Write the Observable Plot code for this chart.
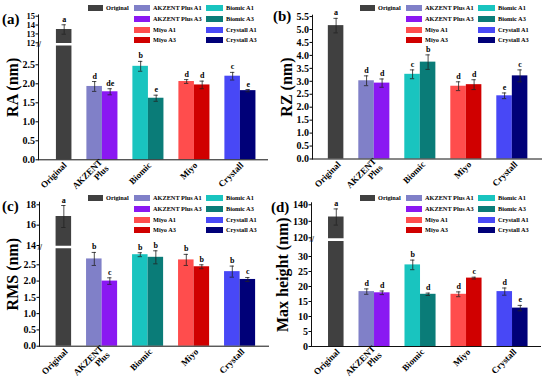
<!DOCTYPE html>
<html><head><meta charset="utf-8">
<script src="https://cdn.jsdelivr.net/npm/d3@7"></script>
<script src="https://cdn.jsdelivr.net/npm/@observablehq/plot@0.6"></script>
<style>
body{margin:0;background:#fff;}
#root{position:relative;width:550px;height:379px;overflow:hidden;font-family:"Liberation Serif","Times New Roman",serif;font-weight:bold;color:#000;}
.panel{position:absolute;}
.panel svg{overflow:visible;}
.tag{position:absolute;font-size:15px;font-weight:bold;line-height:1;white-space:nowrap;}
.legend{position:absolute;left:0;top:0;width:275px;height:50px;font-size:6.3px;}
.sw{position:absolute;height:6px;transform:translateY(-50%);}
.lt{position:absolute;line-height:1;white-space:nowrap;transform:translateY(-50%);}
</style></head><body><div id="root"></div>
<script>
// ---- categories ----
const groups = ["Original", "AKZENT Plus", "Biomic", "Miyo", "Crystall"];
const series = ["Original", "AKZENT Plus A1", "AKZENT Plus A3", "Biomic A1", "Biomic A3", "Miyo A1", "Miyo A3", "Crystall A1", "Crystall A3"];
const seriesGroup = ["Original", "AKZENT Plus", "AKZENT Plus", "Biomic", "Biomic", "Miyo", "Miyo", "Crystall", "Crystall"];
const seriesColors = ["#404040", "#8080c8", "#8a18f2", "#19c4bf", "#0a7c78", "#ff4d4d", "#d00000", "#4848f6", "#000078"];

// ---- (a) RA ----
const raValues = [13.5, 1.93, 1.79, 2.46, 1.62, 2.06, 1.97, 2.20, 1.82];
const raErrors = [0.53, 0.13, 0.08, 0.13, 0.08, 0.05, 0.10, 0.10, 0.03];
const raLetters = ["a", "d", "de", "b", "e", "d", "d", "c", "e"];
const raTicks = [0, 0.5, 1, 1.5, 2, 2.5, 12, 13, 14, 15];

// ---- (b) RZ ----
const rzValues = [5.15, 3.02, 2.93, 3.27, 3.74, 2.81, 2.87, 2.44, 3.21];
const rzErrors = [0.28, 0.19, 0.16, 0.17, 0.28, 0.17, 0.19, 0.11, 0.23];
const rzLetters = ["a", "d", "d", "c", "b", "d", "d", "e", "c"];
const rzTicks = [0, 0.5, 1, 1.5, 2, 2.5, 3, 3.5, 4, 4.5, 5, 5.5];

// ---- (c) RMS ----
const rmsValues = [16.85, 2.68, 2.00, 2.81, 2.73, 2.65, 2.44, 2.29, 2.05];
const rmsErrors = [1.08, 0.20, 0.10, 0.06, 0.20, 0.17, 0.06, 0.17, 0.06];
const rmsLetters = ["a", "b", "c", "b", "b", "b", "b", "b", "c"];
const rmsTicks = [0, 0.5, 1, 1.5, 2, 2.5, 14, 16, 18];

// ---- (d) Max height ----
const maxValues = [132.6, 18.3, 17.9, 27.2, 17.4, 17.4, 22.8, 18.3, 12.8];
const maxErrors = [4.9, 0.9, 0.6, 1.6, 0.4, 0.8, 0.3, 1.2, 0.9];
const maxLetters = ["a", "d", "d", "b", "d", "d", "c", "d", "e"];
const maxTicks = [0, 5, 10, 15, 20, 25, 30, 120, 130, 140];

// axis layout: bottom/top pixel of the y axis, pixels per unit below (and above) the break
const panels = [
  {tag: "(a)", left: 0, top: 0, h: 190, ml: 37, align: 0.16, title: "RA (nm)", titleOffset: 32,
   values: raValues, errors: raErrors, letters: raLetters, ticks: raTicks,
   bottomPx: 159.3, topPx: 14.4, ppuLow: 38, brk: {L: 3, U: 12, gapPx: 3, ppuHigh: 8.87},
   fmt: v => v >= 12 ? String(v) : v.toFixed(1), tagX: 2, tagY: 11.5, lgX: 0},
  {tag: "(b)", left: 275, top: 0, h: 190, ml: 36.5, align: 0.02, title: "RZ (nm)", titleOffset: 31.5,
   values: rzValues, errors: rzErrors, letters: rzLetters, ticks: rzTicks,
   bottomPx: 158.5, topPx: 14.7, ppuLow: 25.9, brk: null,
   fmt: v => v.toFixed(1), tagX: 273, tagY: 8.5, lgX: -3},
  {tag: "(c)", left: 0, top: 190, h: 189, ml: 38, align: 0.07, title: "RMS (nm)", titleOffset: 33,
   values: rmsValues, errors: rmsErrors, letters: rmsLetters, ticks: rmsTicks,
   bottomPx: 155.7, topPx: 11.7, ppuLow: 32.56, brk: {L: 3, U: 14, gapPx: 3, ppuHigh: 10.18},
   fmt: v => v >= 14 ? String(v) : v.toFixed(1), tagX: 2, tagY: 198.5, lgX: 0},
  {tag: "(d)", left: 275, top: 190, h: 189, ml: 35.5, align: 0.1, title: "Max height (nm)", titleOffset: 35,
   values: maxValues, errors: maxErrors, letters: maxLetters, ticks: maxTicks,
   bottomPx: 156, topPx: 12.3, ppuLow: 3.0, brk: {L: 35, U: 120, gapPx: 3.7, ppuHigh: 1.65},
   fmt: v => String(v), tagX: 271, tagY: 199.5, lgX: -3}
];

// legend layout: [series index, column, row]
const legendItems = [[0,0,0],[1,1,0],[3,2,0],[2,1,1],[4,2,1],[5,1,2],[7,2,2],[6,1,3],[8,2,3]];
const legendColX = [88, 134, 206], legendSwW = [15, 16, 17], legendRowY = [7.5, 18.5, 29.5, 40];

// broken-axis mapping: data value -> position on a continuous "display" axis
function axisTransform(p) {
  if (!p.brk) return v => v;
  const {L, U, gapPx, ppuHigh} = p.brk;
  const g = gapPx / p.ppuLow, k = ppuHigh / p.ppuLow;
  return v => v <= L ? v : v >= U ? L + g + (v - U) * k : L + (v - L) / (U - L) * g;
}

const root = document.getElementById("root");

for (const p of panels) {
  const f = axisTransform(p);
  const rows = series.map((s, i) => ({
    series: s, group: seriesGroup[i],
    // the single "Original" bar occupies the second slot of its group, as in the source figure
    slot: s.endsWith("A1") ? "A1" : "A3",
    value: p.values[i], err: p.errors[i], letter: p.letters[i]
  }));
  // axis ticks are placed on the display axis and labelled with their data value
  const lowTicks = p.brk ? p.ticks.filter(v => v <= p.brk.L) : p.ticks;
  const highTicks = p.brk ? p.ticks.filter(v => v >= p.brk.U) : [];
  const tickLabel = new Map(p.ticks.map(v => [f(v), p.fmt(v)]));
  const highFont = p.brk ? Math.min(10, (highTicks[1] - highTicks[0]) * p.brk.ppuHigh - 0.3) : 10;

  const marks = [
    Plot.barY(rows, {fx: "group", x: "slot", y: "value", fill: "series"})
  ];
  if (p.brk) {
    marks.push(Plot.ruleY([{group: "Original", y: (p.brk.L + p.brk.U) / 2}], {fx: "group", y: "y", stroke: "white", strokeWidth: 2.6}));
  }
  marks.push(
    Plot.ruleX(rows, {fx: "group", x: "slot", y1: d => d.value - d.err, y2: d => d.value + d.err, stroke: "#222", strokeWidth: 0.8}),
    Plot.tickY(rows, {fx: "group", x: "slot", y: d => d.value + d.err, stroke: "#222", strokeWidth: 0.8, insetLeft: 5.6, insetRight: 5.6}),
    Plot.tickY(rows, {fx: "group", x: "slot", y: d => d.value - d.err, stroke: "#222", strokeWidth: 0.8, insetLeft: 5.6, insetRight: 5.6}),
    Plot.text(rows, {fx: "group", x: "slot", y: d => d.value + d.err, text: "letter", dy: -3, lineAnchor: "bottom", fontSize: 8, fontWeight: "bold"}),
    Plot.ruleY([0], {stroke: "#111", strokeWidth: 1}),
    Plot.frame({anchor: "left", facetAnchor: "left", stroke: "#111", strokeWidth: 1})
  );
  if (p.brk) {
    marks.push(
      Plot.axisY({ticks: [f((p.brk.L + p.brk.U) / 2)], tickFormat: () => "//", tickSize: 0, tickPadding: -2.6, fontSize: 8, label: null}),
      Plot.axisY({ticks: highTicks.map(f), tickFormat: t => tickLabel.get(t), tickSize: 2.5, tickPadding: 1, fontSize: highFont, label: null})
    );
  }
  marks.push(
    Plot.axisY({ticks: lowTicks.map(f), tickFormat: t => tickLabel.get(t), tickSize: 2.5, tickPadding: 1, fontSize: 10, label: null}),
    Plot.axisY({ticks: [], label: p.title, labelAnchor: "center", labelOffset: p.titleOffset, labelArrow: "none", fontSize: 16, tickSize: 0}),
    Plot.axisFx({anchor: "bottom", ticks: groups.slice(1), tickRotate: -45, tickSize: 0, tickPadding: 4, dx: -3.6, fontSize: 9, label: null,
      tickFormat: g => g === "AKZENT Plus" ? "AKZENT\nPlus" : g}),
    Plot.axisFx({anchor: "bottom", ticks: ["Original"], tickRotate: -45, tickSize: 0, tickPadding: 4, dx: 3.7, fontSize: 9, label: null})
  );

  const facetSpan = 231;
  const chart = Plot.plot({
    width: 275, height: p.h,
    marginLeft: p.ml, marginRight: 275 - p.ml - facetSpan,
    marginTop: p.topPx, marginBottom: p.h - p.bottomPx,
    style: {fontFamily: "Liberation Serif, Times New Roman, serif", fontWeight: "bold", fontSize: "10px", background: "transparent", color: "#000"},
    fx: {domain: groups, padding: 0, label: null},
    x: {domain: ["A1", "A3"], paddingInner: 0, paddingOuter: 0.481, align: p.align, round: false, axis: null},
    y: {domain: [0, (p.bottomPx - p.topPx) / p.ppuLow], transform: f, label: null},
    color: {domain: series, range: seriesColors},
    marks
  });

  const div = document.createElement("div");
  div.className = "panel";
  div.style.left = p.left + "px";
  div.style.top = p.top + "px";
  div.style.width = "275px";
  div.style.height = p.h + "px";
  div.appendChild(chart);

  const lg = document.createElement("div");
  lg.className = "legend";
  for (const [si, col, row] of legendItems) {
    const sw = document.createElement("div");
    sw.className = "sw";
    sw.style.left = (legendColX[col] + p.lgX) + "px";
    sw.style.top = legendRowY[row] + "px";
    sw.style.width = legendSwW[col] + "px";
    sw.style.background = seriesColors[si];
    lg.appendChild(sw);
    const t = document.createElement("div");
    t.className = "lt";
    t.style.left = (legendColX[col] + p.lgX + legendSwW[col] + 3) + "px";
    t.style.top = legendRowY[row] + "px";
    t.textContent = series[si];
    lg.appendChild(t);
  }
  div.appendChild(lg);
  root.appendChild(div);

  const tag = document.createElement("div");
  tag.className = "tag";
  tag.style.left = p.tagX + "px";
  tag.style.top = p.tagY + "px";
  tag.textContent = p.tag;
  root.appendChild(tag);
}
</script>
</body></html>
